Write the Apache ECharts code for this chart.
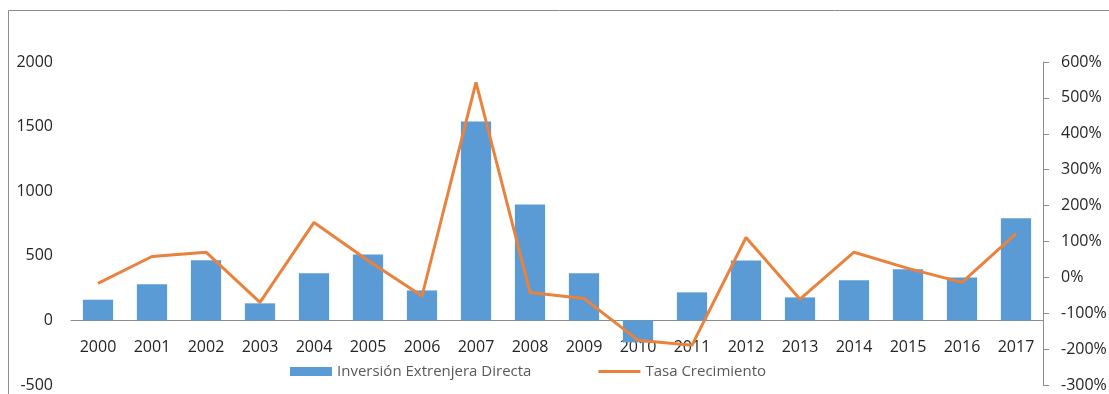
<!DOCTYPE html>
<html>
<head>
<meta charset="utf-8">
<script src="https://cdn.jsdelivr.net/npm/echarts@6/dist/echarts.min.js"></script>
<style>
html,body{margin:0;padding:0;background:#fff;}
#c{width:1109px;height:394px;}
</style>
</head>
<body>
<div id="c"></div>
<script>
const years = ['2000','2001','2002','2003','2004','2005','2006','2007','2008','2009','2010','2011','2012','2013','2014','2015','2016','2017'];
const inversion = [160, 280, 465, 132, 364, 510, 232, 1540, 898, 364, -170, 217, 464, 178, 310, 395, 333, 790];
const tasa = [-17, 58, 70, -70, 153, 47, -52, 543, -42, -59, -175, -189, 111, -61, 70, 25, -14, 122];
const leftTicks = {min: -500, max: 2000, interval: 500};
const rightTicks = {min: -300, max: 600, interval: 100};
const names = ['Inversión Extrenjera Directa', 'Tasa Crecimiento'];

const font = 'Open Sans';
const lineColor = '#e8823d';
const chart = echarts.init(document.getElementById('c'));
chart.setOption({
  animation: false,
  backgroundColor: '#fff',
  graphic: [{
    type: 'rect', silent: true,
    shape: {x: 8.5, y: 10.5, width: 1200, height: 500},
    style: {fill: 'none', stroke: '#8c8c8c', lineWidth: 1}
  }],
  grid: {left: 71, right: 66, top: 62, bottom: 9, containLabel: false, outerBoundsMode: 'none'},
  legend: {
    bottom: 10, left: 285,
    itemWidth: 42, itemHeight: 9, itemGap: 67,
    symbolKeepAspect: true,
    textStyle: {fontFamily: font, fontSize: 15, color: '#595959'},
    data: [{name: names[0], icon: 'rect'}, {name: names[1], icon: 'path://M0,0H42V3H0Z'}]
  },
  xAxis: {
    type: 'category', data: years,
    axisLine: {onZero: true, onZeroAxisIndex: 0, lineStyle: {color: '#8c8c8c', width: 1}},
    axisTick: {show: false},
    axisLabel: {margin: -46, fontFamily: font, fontSize: 16, color: '#262626'}
  },
  yAxis: [{
    type: 'value', min: leftTicks.min, max: leftTicks.max, interval: leftTicks.interval,
    axisLine: {show: false}, axisTick: {show: false}, splitLine: {show: false},
    axisLabel: {margin: 18, fontFamily: font, fontSize: 16, color: '#262626', formatter: v => String(v)}
  }, {
    type: 'value', position: 'right', min: rightTicks.min, max: rightTicks.max, interval: rightTicks.interval,
    axisLine: {show: true, onZero: false, lineStyle: {color: '#8c8c8c'}},
    axisTick: {show: true, length: 6, lineStyle: {color: '#8c8c8c'}},
    splitLine: {show: false},
    axisLabel: {margin: 18, fontFamily: font, fontSize: 16, color: '#262626', formatter: v => v + '%'}
  }],
  series: [{
    name: names[0], type: 'bar', data: inversion, barWidth: '56%',
    itemStyle: {color: '#5b9bd5'}
  }, {
    name: names[1], type: 'line', yAxisIndex: 1, data: tasa,
    symbol: 'none', lineStyle: {color: lineColor, width: 3}, itemStyle: {color: lineColor}, z: 5
  }]
});
</script>
</body>
</html>
